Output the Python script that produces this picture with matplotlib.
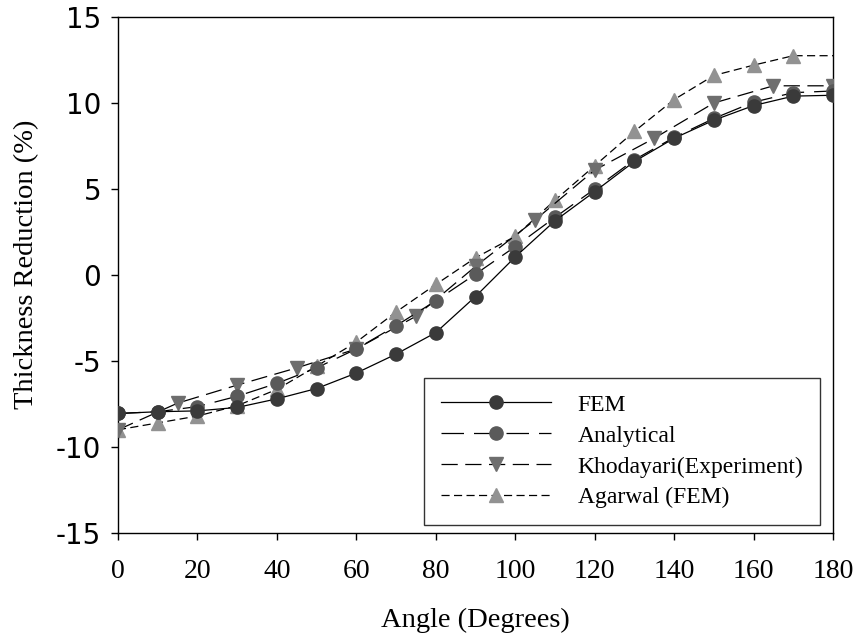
import matplotlib
matplotlib.use("Agg")
import matplotlib.pyplot as plt

plt.rcParams["axes.unicode_minus"] = False

# angles (degrees)
angle = [0, 10, 20, 30, 40, 50, 60, 70, 80, 90, 100, 110, 120, 130, 140, 150, 160, 170, 180]
angle_exp = [0, 15, 30, 45, 60, 75, 90, 105, 120, 135, 150, 165, 180]

# thickness reduction (%)
fem = [-8.05, -7.95, -7.9, -7.7, -7.2, -6.6, -5.7, -4.6, -3.35, -1.25, 1.05, 3.15, 4.85,
       6.6, 7.95, 9.0, 9.85, 10.4, 10.45]
analytical = [-8.05, -7.95, -7.65, -7.05, -6.3, -5.4, -4.3, -2.95, -1.5, 0.05, 1.65, 3.35, 5.0,
              6.7, 8.0, 9.1, 10.05, 10.6, 10.7]
khodayari = [-9.0, -7.45, -6.4, -5.4, -4.3, -2.4, 0.5, 3.2, 6.1, 7.95, 10.0, 11.0, 11.0]
agarwal = [-9.0, -8.6, -8.2, -7.6, -6.65, -5.3, -3.9, -2.15, -0.55, 1.0, 2.25, 4.35, 6.35,
           8.35, 10.2, 11.6, 12.2, 12.75, 12.75]

serif = ["Liberation Serif", "DejaVu Serif"]

fig = plt.figure(figsize=(8.6, 6.39), dpi=100)
ax = fig.add_axes([118 / 860, 1 - 533 / 639, 715 / 860, 516 / 639])

ax.plot(angle, fem, color="black", lw=0.9, marker="o", ms=9.5,
        mfc="#3a3a3a", mec="#3a3a3a", label="FEM", zorder=5)
ax.plot(angle, analytical, color="black", lw=0.9, dashes=(18, 8), marker="o", ms=9.5,
        mfc="#5a5a5a", mec="#5a5a5a", label="Analytical", zorder=4)
ax.plot(angle_exp, khodayari, color="black", lw=0.9, dashes=(13, 6), marker="v", ms=10,
        mfc="#6e6e6e", mec="#6e6e6e", label="Khodayari(Experiment)", zorder=3)
# last point has no marker in the original, only the line
ax.plot(angle, agarwal, color="black", lw=0.9, dashes=(6.5, 3.5), marker="^", ms=10,
        mfc="#929292", mec="#929292", markevery=list(range(len(angle) - 1)),
        label="Agarwal (FEM)", zorder=2)

ax.set_xlim(0, 180)
ax.set_ylim(-15, 15)
ax.set_xticks(range(0, 181, 20))
ax.set_yticks(range(-15, 16, 5))

for s in ax.spines.values():
    s.set_linewidth(1.0)
ax.tick_params(axis="both", direction="out", length=5, width=1.0)
ax.tick_params(axis="y", labelsize=20, pad=7)
ax.tick_params(axis="x", labelsize=20, pad=14)
for lbl in ax.get_xticklabels():
    lbl.set_family(serif)

ax.set_xlabel("Angle (Degrees)", family=serif, fontsize=20.5)
ax.set_ylabel("Thickness Reduction (%)", family=serif, fontsize=20.5)
ax.xaxis.set_label_coords(0.5, -0.145)
ax.yaxis.set_label_coords(-0.11, 0.52)

leg = ax.legend(loc="lower right", bbox_to_anchor=(0.982, 0.0155), borderaxespad=0,
                prop={"family": serif, "size": 17}, frameon=True, fancybox=False,
                handlelength=4.65, handletextpad=1.15, labelspacing=0.4, borderpad=0.7)
leg.get_frame().set_edgecolor("black")
leg.get_frame().set_linewidth(1.0)

fig.savefig("out.png", dpi=100)
